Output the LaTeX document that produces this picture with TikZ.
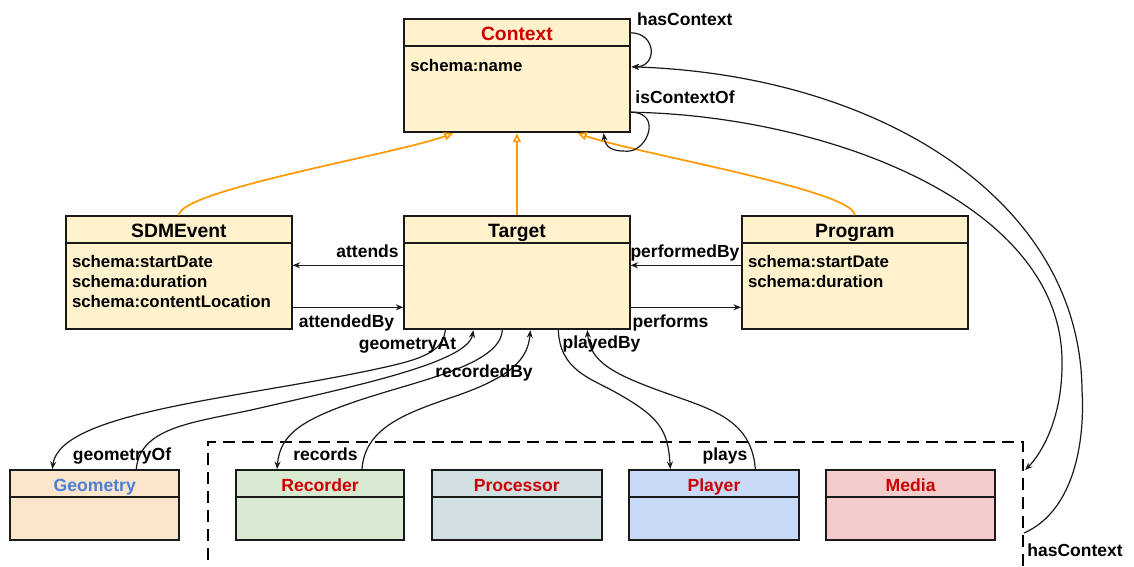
\documentclass[tikz,border=0pt]{standalone}
\usepackage{fontspec}
\setmainfont{Liberation Sans}
\usetikzlibrary{arrows.meta,calc}
\definecolor{beige}{HTML}{FFF2CC}
\definecolor{geofill}{HTML}{FCE5CD}
\definecolor{recfill}{HTML}{D9EAD3}
\definecolor{procfill}{HTML}{D0E0E3}
\definecolor{plyfill}{HTML}{C9DAF8}
\definecolor{medfill}{HTML}{F4CCCC}
\definecolor{titlered}{HTML}{CC0000}
\definecolor{titleblue}{HTML}{4A7FD8}
\definecolor{inhorange}{HTML}{FF9900}
\definecolor{edgeblack}{HTML}{1A1A1A}
\tikzset{
  clsbox/.style={draw=edgeblack, line width=1.9pt, anchor=north west, inner sep=0pt, rectangle},
  sepline/.style={draw=edgeblack, line width=1.9pt},
  bigtitle/.style={anchor=base, inner sep=0pt, font=\bfseries\fontsize{19.3}{22}\selectfont},
  smalltitle/.style={anchor=base, inner sep=0pt, font=\bfseries\fontsize{17.6}{20}\selectfont},
  attr/.style={anchor=north west, align=left, inner sep=0pt, font=\bfseries\fontsize{16.8}{20}\selectfont},
  lbl/.style={anchor=base, inner sep=0pt, font=\bfseries\fontsize{17.5}{20}\selectfont},
  conn/.style={draw=edgeblack, line width=1.2pt, -{Stealth[length=7.5pt,width=6pt]}},
  inh/.style={draw=inhorange, line width=1.7pt, -{Triangle[open,length=9pt,width=8pt]}},
  grpbox/.style={draw=black, line width=2.2pt, dash pattern=on 12pt off 7pt, anchor=north west, inner sep=0pt, rectangle},
}
\newcommand{\umlclass}[9]{%
  \node[clsbox, fill=#6, minimum width=#4pt, minimum height=#5pt] (#1) at (#2,#3) {};
  \draw[sepline] ($(#1.north west)+(0,28)$) -- ($(#1.north east)+(0,28)$);
  \node[#7, text=#8] (#1-title) at ($(#1.north)+(0,22)$) {#9};
}
\begin{document}
\begin{tikzpicture}[x=1pt,y=-1pt]
\useasboundingbox (0,0) rectangle (1134,566);

% group box
\node[grpbox, minimum width=815pt, minimum height=126pt] (grp) at (207,441) {};

% classes
\umlclass{ctx}{403.3}{18.3}{225.4}{113}{beige}{bigtitle}{titlered}{Context}
\umlclass{sdm}{65.3}{215.3}{225.4}{113}{beige}{bigtitle}{black}{SDMEvent}
\umlclass{tgt}{403.3}{215.3}{225.4}{113}{beige}{bigtitle}{black}{Target}
\umlclass{prog}{741}{215.3}{225.7}{113}{beige}{bigtitle}{black}{Program}
\umlclass{geo}{9.3}{469}{169}{70.3}{geofill}{smalltitle}{titleblue}{Geometry}
\umlclass{rec}{235}{469}{168.3}{70.3}{recfill}{smalltitle}{titlered}{Recorder}
\umlclass{proc}{431}{469}{169.7}{70.3}{procfill}{smalltitle}{titlered}{Processor}
\umlclass{ply}{628.3}{469}{169.4}{70.3}{plyfill}{smalltitle}{titlered}{Player}
\umlclass{med}{825}{469}{169.3}{70.3}{medfill}{smalltitle}{titlered}{Media}

% attributes
\node[attr] (ctx-attr) at ($(ctx.north west)+(6.8,40.5)$) {schema:name};
\node[attr] (sdm-attr) at ($(sdm.north west)+(6.5,40)$) {schema:startDate\\schema:duration\\schema:contentLocation};
\node[attr] (prog-attr) at ($(prog.north west)+(6.8,40)$) {schema:startDate\\schema:duration};

% inheritance
\draw[inh] (sdm.north) .. controls ($(sdm.north)+(0,-25)$) and ($(ctx.south west)+(-8,21)$) .. ($(ctx.south west)+(50,0)$);
\draw[inh] (tgt.north) -- (ctx.south);
\draw[inh] (prog.north) .. controls ($(prog.north)+(0,-25)$) and ($(ctx.south east)+(8,21)$) .. ($(ctx.south east)+(-53,0)$);

% self loops on Context
\draw[conn] ($(ctx.north east)+(0,14.5)$) .. controls +(26,0) and +(26,0) .. ($(ctx.north east)+(1,48.5)$);
\draw[conn] ($(ctx.south east)+(0,-21)$) .. controls +(32,0) and +(20,0) .. ($(ctx.south east)+(-3,18)$)
            .. controls +(-15,0) and +(2,15) .. ($(ctx.south east)+(-27,0)$);

% long hasContext / isContextOf
\draw[conn] ($(grp.north east)+(0,92)$) .. controls (1075,510) and (1085,440) .. (1082,390)
            .. controls (1080,200) and (880,75) .. ($(ctx.north east)+(1,48.5)$);
\draw[conn] ($(ctx.south east)+(0,-21)$) .. controls (820,115) and (1060,200) .. (1062,360)
            .. controls (1063,420) and (1040,455) .. ($(grp.north east)+(1,29)$);

% Target horizontal
\draw[conn] ($(tgt.north west)+(0,50)$) -- ($(sdm.north east)+(0,50)$);
\draw[conn] ($(sdm.north east)+(0,92)$) -- ($(tgt.north west)+(0,92)$);
\draw[conn] ($(prog.north west)+(0,50)$) -- ($(tgt.north east)+(0,50)$);
\draw[conn] ($(tgt.north east)+(0,92)$) -- ($(prog.north west)+(0,92)$);

% Target bottom curves
\draw[conn] ($(tgt.south west)+(42,0)$) .. controls (443,350) and (425,358) .. (390,366)
            .. controls (250,398) and (60,410) .. ($(geo.north west)+(43,0)$);
\draw[conn] ($(geo.north west)+(127,0)$) .. controls (140,425) and (200,422) .. (260,408)
            .. controls (360,385) and (468,362) .. ($(tgt.south west)+(70,0)$);
\draw[conn] ($(tgt.south west)+(99,0)$) .. controls (500,365) and (420,380) .. (360,400)
            .. controls (300,420) and (280,435) .. ($(rec.north west)+(42,0)$);
\draw[conn] ($(rec.north west)+(127,0)$) .. controls (365,430) and (400,415) .. (450,398)
            .. controls (510,378) and (528,360) .. ($(tgt.south west)+(127,0)$);
\draw[conn] ($(tgt.south west)+(155,0)$) .. controls (560,370) and (590,378) .. (615,392)
            .. controls (660,417) and (668,430) .. ($(ply.north west)+(42,0)$);
\draw[conn] ($(ply.north west)+(127,0)$) .. controls (752,425) and (720,412) .. (680,398)
            .. controls (620,377) and (590,365) .. ($(tgt.south west)+(184,0)$);

% labels
\node[lbl] (l-hasctx) at (684.7,25.5) {hasContext};
\node[lbl] (l-isctx) at (685,103) {isContextOf};
\node[lbl] (l-attends) at (367.5,257) {attends};
\node[lbl] (l-attendedby) at (346.5,327.5) {attendedBy};
\node[lbl] (l-performedby) at (685,257) {performedBy};
\node[lbl] (l-performs) at (670.5,327.5) {performs};
\node[lbl] (l-geomat) at (407.5,349) {geometryAt};
\node[lbl] (l-recordedby) at (484,377) {recordedBy};
\node[lbl] (l-playedby) at (601.5,348) {playedBy};
\node[lbl] (l-geomof) at (122,460.5) {geometryOf};
\node[lbl] (l-records) at (325.5,460) {records};
\node[lbl] (l-plays) at (725,460) {plays};
\node[lbl] (l-hasctx2) at (1075,556) {hasContext};
\end{tikzpicture}
\end{document}
